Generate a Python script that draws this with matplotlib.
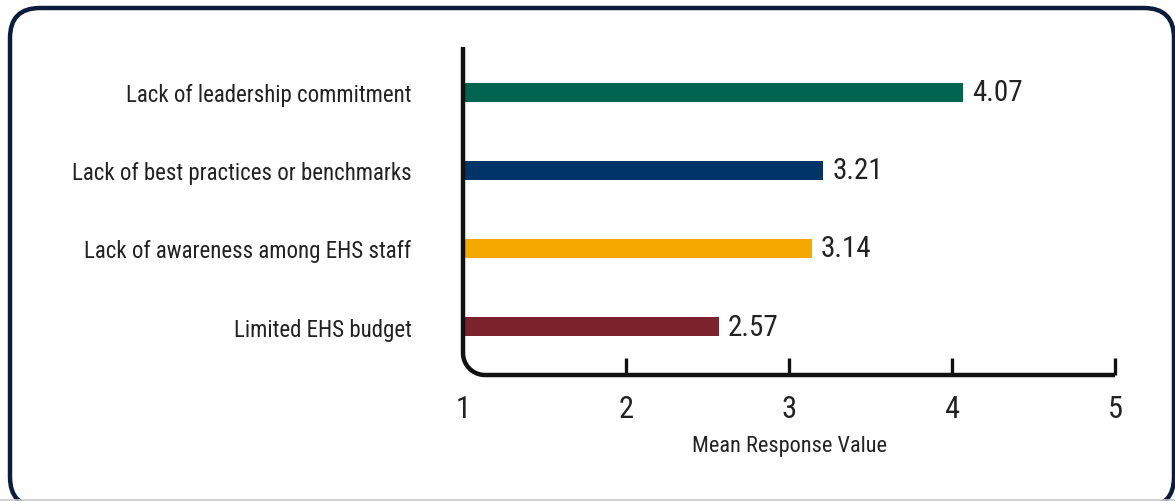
import numpy as np
import matplotlib.pyplot as plt
from matplotlib.patches import FancyBboxPatch
from matplotlib.lines import Line2D

plt.rcParams['font.family'] = ['Roboto Condensed', 'DejaVu Sans']

categories = [
    "Lack of leadership commitment",
    "Lack of best practices or benchmarks",
    "Lack of awareness among EHS staff",
    "Limited EHS budget",
]
values = [4.07, 3.21, 3.14, 2.57]
colors = ["#006450", "#003366", "#f5a800", "#7b222c"]
xticks = [1, 2, 3, 4, 5]

W, H = 1175, 502
fig = plt.figure(figsize=(W / 100, H / 100), dpi=100)

# outer rounded frame (pixel coordinates)
frame = FancyBboxPatch((10, -6), 1164, 499, boxstyle="round,pad=0,rounding_size=30",
                       transform=None, facecolor="none", edgecolor="#0b1d3a",
                       linewidth=3.2, zorder=-1)
fig.patches.append(frame)
fig.add_artist(Line2D([0, 1], [0.001, 0.001], transform=fig.transFigure,
                      color="#c8c8c8", linewidth=1.2))

ax = fig.add_axes([463 / W, 1 - 376 / H, (1115 - 463) / W, (376 - 48) / H])
ax.patch.set_alpha(0)

y = np.arange(len(categories))
ax.barh(y, [v - 1 for v in values], left=1, height=0.245, color=colors, zorder=2)
for yi, v in zip(y, values):
    ax.text(v + 0.055, yi, f"{v:.2f}", va="center", ha="left", fontsize=21, color="#222222")

ax.set_xlim(1, 5)
ax.set_ylim(3.62, -0.58)
for s in ax.spines.values():
    s.set_visible(False)

# axis line with a rounded lower-left corner
ax_w, ax_h = 1115 - 463, 376 - 48
r = 22
rx, ry = r / ax_w, r / ax_h
t = np.linspace(np.pi, 1.5 * np.pi, 20)
arc_x = rx + rx * np.cos(t)
arc_y = ry + ry * np.sin(t)
xs = np.concatenate([[0], arc_x, [1]])
ys = np.concatenate([[1], arc_y, [0]])
ax.plot(xs, ys, transform=ax.transAxes, color="#111111", linewidth=3.2,
        solid_capstyle="butt", clip_on=False, zorder=3)

ax.set_xticks(xticks)
ax.set_xticklabels([str(v) for v in xticks])
ax.tick_params(axis="x", direction="in", length=12, width=2.4, color="#111111",
               labelsize=22, labelcolor="#222222", pad=14)
ax.get_xticklines()[0].set_visible(False)
ax.set_yticks(y)
ax.set_yticklabels(categories)
ax.tick_params(axis="y", length=0, labelsize=16.5, labelcolor="#222222", pad=37)
ax.set_xlabel("Mean Response Value", fontsize=16, color="#222222", labelpad=8)

fig.savefig("out.png", dpi=100)
